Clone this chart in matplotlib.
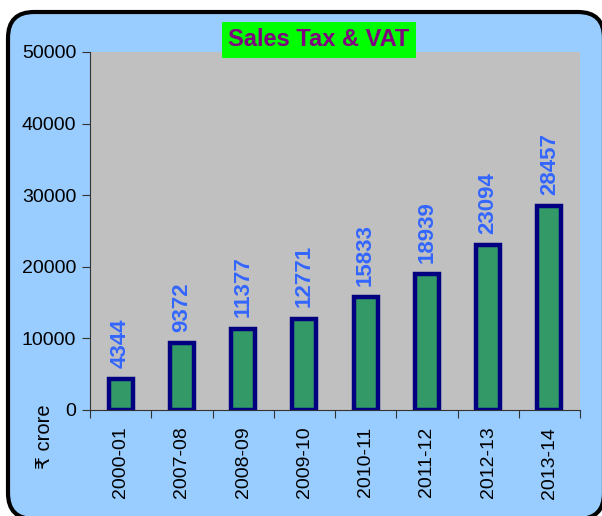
import matplotlib
matplotlib.use("Agg")
import matplotlib.pyplot as plt
from matplotlib.patches import FancyBboxPatch
from matplotlib.transforms import IdentityTransform

categories = ["2000-01", "2007-08", "2008-09", "2009-10", "2010-11", "2011-12", "2012-13", "2013-14"]
values = [4344, 9372, 11377, 12771, 15833, 18939, 23094, 28457]
yticks = [0, 10000, 20000, 30000, 40000, 50000]

plt.rcParams['font.family'] = ['Liberation Sans', 'DejaVu Sans']

W, H = 602, 516
fig = plt.figure(figsize=(W/100, H/100), dpi=100)
fig.patch.set_facecolor('white')

# rounded outer panel (pixel coordinates)
panel = FancyBboxPatch((8, -3), 596, 507,
                       boxstyle="round,pad=0,rounding_size=26",
                       transform=IdentityTransform(), facecolor='#99CCFF',
                       edgecolor='black', linewidth=3, zorder=-10)
fig.patches.append(panel)

ax = fig.add_axes([90/W, 1-410/H, (580-90)/W, (410-52)/H])
ax.set_zorder(1)
ax.set_facecolor('#C0C0C0')
x = list(range(len(categories)))
ax.bar(x, values, width=0.39, color='#339966', edgecolor='#000080', linewidth=3.2, zorder=3)
for xi, v in zip(x, values):
    ax.annotate(str(v), (xi, v), xytext=(0, 8), textcoords='offset points',
                rotation=90, ha='center', va='bottom',
                color='#3366FF', fontsize=16, fontweight='bold', zorder=4)

ax.set_xlim(-0.5, len(categories) - 0.5)
ax.set_ylim(0, 50000)
ax.set_yticks(yticks)
ax.set_yticklabels([str(t) for t in yticks], fontsize=14)
ax.set_xticks([i - 0.5 for i in range(len(categories) + 1)])
ax.set_xticklabels([])
ax.set_xticks(x, minor=True)
ax.set_xticklabels(categories, minor=True, rotation=90, fontsize=14)
ax.tick_params(axis='x', which='minor', length=0, pad=12)
ax.tick_params(axis='x', which='major', length=6, color='#333333', direction='out')
ax.tick_params(axis='y', length=6, color='#333333', direction='out', pad=4)
for s in ['top', 'right']:
    ax.spines[s].set_visible(False)
ax.spines['left'].set_color('#333333')
ax.spines['bottom'].set_color('#333333')

fig.text(45/W, 1-437/H, "₹ crore", rotation=90, ha='center', va='center', fontsize=14.5)

fig.text(319/W, 1-40/H, "Sales Tax & VAT", ha='center', va='center',
         color='#800080', fontsize=17, fontweight='bold', zorder=5,
         bbox=dict(facecolor='#00FF00', edgecolor='none', pad=4.5))

fig.savefig("out.png", dpi=100)
